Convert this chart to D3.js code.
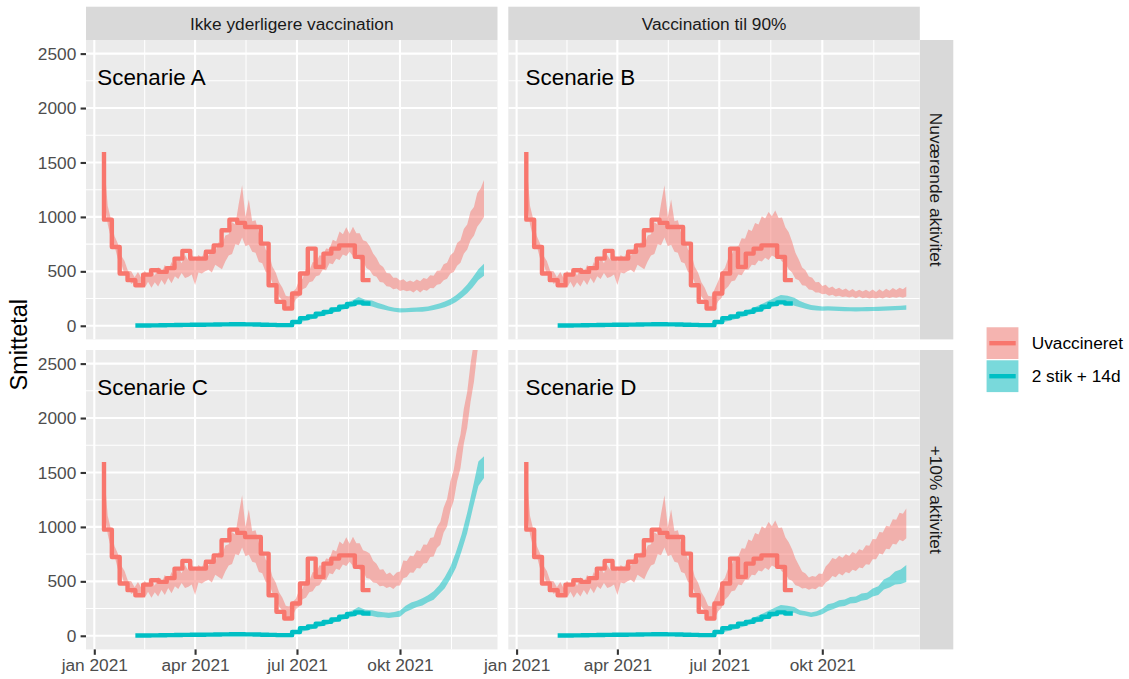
<!DOCTYPE html>
<html><head><meta charset="utf-8">
<script src="https://cdn.jsdelivr.net/npm/d3@7"></script>
<style>
body{margin:0;background:#fff;}
text{font-family:"Liberation Sans",Arial,Helvetica,sans-serif;}
</style>
</head><body>
<svg id="chart" width="1129" height="679"></svg>
<script>
// ---------------- DATA ----------------
const colFacets = ["Ikke yderligere vaccination", "Vaccination til 90%"];
const rowFacets = ["Nuværende aktivitet", "+10% aktivitet"];
const scenarioLabels = ["Scenarie A", "Scenarie B", "Scenarie C", "Scenarie D"];
const seriesNames = ["Uvaccineret", "2 stik + 14d"];
const yTicks = [0, 500, 1000, 1500, 2000, 2500];
const xBreaks = ["2021-01-01", "2021-04-01", "2021-07-01", "2021-10-01", "2022-01-01"];
const xTickLabels = ["jan 2021", "apr 2021", "jul 2021", "okt 2021", "jan 2022"];

// observed weekly step series (same in all panels)
const obsStart = "2021-01-09T16:00:00Z";
const obsRedSpike = 1596;
const obsRed = [975,724,480,419,373,470,510,495,530,617, 688,617,617,680,739,877,975,945,908,908,
  755,373,220,159,297,480,709,541,663,709, 739,739,633,419];
const obsCyanStartWeek = 4;
const obsCyan = [2,3,4,5,6,7,8,9,10,11, 12,13,14,14,13,12,10,8,6,6, 35,70,85,110,128,150,175,200,215,205];

// model ribbons: Uvaccineret (red)
const redCommonStart = "2021-01-10", redCommonStep = 3;
const redCommonLo = [1150,930,800,735,615,575,470,450,385,405,360,400,345,405,350,400,360,420,375,440,390,455,430,485,440,450,470,375,490,480,500,515,490,560,540,520,590,645,660,750,740,810,730,745,680,670,585,575,495,480,395,350,270,230,180,170];
const redCommonHi = [1480,1100,975,825,755,645,595,505,500,445,495,440,505,460,525,460,540,480,560,505,585,530,625,575,650,600,660,590,650,625,700,640,725,680,770,740,830,840,950,930,1120,1290,1000,1160,960,970,850,810,700,670,545,490,400,350,275,270];

const redColStart = "2021-06-27", redColStep = 3;
const redLeftLo  = [180,245,270,335,350,400,410,455,465,515,510,575,565,615,605,655,640,680,640,670,605,595,530];
const redLeftHi  = [310,340,420,430,525,505,585,580,645,645,710,705,790,775,865,840,905,845,910,850,850,785,775];
const redRightLo = [160,225,255,330,360,410,415,470,465,515,515,560,555,600,590,625,605,645,630,635,590,575,520];
const redRightHi = [340,410,495,530,620,650,720,730,805,800,885,870,945,930,1005,985,1045,1005,1060,990,995,905,860];

const redTailStart = "2021-09-04", redTailStep = 3;
const redTailALo = [510,462,450,402,398,364,358,335,342,320,328,318,325,306,330,305,330,322,346,344,378,384,418,432,480,495,552,580,662,700,785,828,910,950,1000];
const redTailAHi = [730,665,622,562,540,485,480,442,442,415,428,402,415,402,426,410,438,430,464,460,505,508,566,578,648,675,760,785,890,930,1050,1090,1220,1260,1340];
const redTailBLo = [490,432,418,372,368,334,328,306,306,290,294,276,286,268,276,264,270,260,268,254,268,252,261,250,258,250,260,251,264,256,264,257,267,258,270];
const redTailBHi = [775,670,610,535,510,452,442,400,402,366,378,346,362,336,350,328,342,320,338,316,332,314,330,312,334,310,336,314,340,322,346,328,350,336,358];
const redTailCLo = [525,490,485,456,460,438,450,430,460,462,528,540,582,578,622,618,664,668,724,728,806,836,948,1004,1150,1240,1420,1540,1765,1910,2150,2330,2600,2800,3080];
const redTailCHi = [755,690,662,606,612,566,582,550,582,590,692,686,736,730,786,776,838,836,898,906,1000,1048,1178,1256,1420,1525,1725,1850,2085,2240,2500,2700,2980,3200,3500];
const redTailDLo = [505,465,456,434,440,424,434,428,452,448,490,510,550,538,572,554,586,574,606,594,628,620,658,652,702,702,756,746,800,796,846,838,882,868,895];
const redTailDHi = [795,710,650,590,572,535,550,542,572,568,636,668,714,702,736,716,750,734,770,754,795,784,832,828,888,886,954,948,1010,1004,1070,1066,1130,1122,1170];

// model ribbons: 2 stik + 14d (cyan)
const cyanCommonStart = "2021-02-08", cyanCommonStep = 6;
const cyanCommonLo = [0,1,2,3,4,5,5,6,7,8,8,9,10,10,11,11,10,10,9,8,7,6,6,8];
const cyanCommonHi = [8,10,12,14,15,16,18,19,20,21,22,23,24,25,26,26,25,24,23,22,21,20,22,28];
const cyanColStart = "2021-07-02", cyanColStep = 6;
const cyanLeftLo  = [30,45,60,80,95,115,135,155,175,195,190];
const cyanLeftHi  = [55,75,95,115,135,158,180,205,230,265,240];
const cyanRightLo = [28,42,58,76,95,115,135,158,180,205,210];
const cyanRightHi = [55,75,98,120,142,168,195,225,255,282,275];
const cyanTailStart = "2021-09-06", cyanTailStep = 5;
const cyanTailALo = [178,162,150,138,128,122,124,126,128,130,136,145,156,170,190,218,255,300,355,420,460];
const cyanTailAHi = [232,212,195,178,166,160,162,165,168,172,178,190,204,222,246,280,325,380,445,520,570];
const cyanTailBLo = [185,170,156,146,140,138,140,138,136,134,133,132,133,134,135,137,139,141,143,145,148];
const cyanTailBHi = [258,228,206,192,183,178,180,177,174,172,170,170,170,172,173,176,178,180,182,184,188];
const cyanTailCLo = [182,170,170,163,170,176,218,242,265,279,308,332,384,436,525,625,776,944,1166,1375,1450];
const cyanTailCHi = [235,222,216,212,218,232,275,305,322,345,372,410,465,540,635,770,930,1130,1360,1600,1650];
const cyanTailDLo = [212,190,183,172,181,197,228,245,266,274,296,301,322,331,360,375,425,443,471,476,495];
const cyanTailDHi = [265,235,225,213,225,249,289,301,326,334,357,361,388,396,434,454,516,542,591,609,650];

// ---------------- LAYOUT ----------------
const DAY = 864e5;
const C = {red:"#F8766D", cyan:"#00BFC4", panel:"#EBEBEB", strip:"#D9D9D9"};
const panelW = 411.5, panelH = 299.4;
const colX = [86, 508.3], rowY = [40, 350];
const xDomain = [new Date("2020-12-24T14:10:00Z"), new Date("2021-12-27T01:40:00Z")];
const yDomain = [-125, 2625];
const labelPos = [{d:"2021-01-03T16:00:00Z"}, {d:"2021-01-09T00:00:00Z"}];
const labelValue = 2290;

const svg = d3.select("#chart");
svg.append("rect").attr("width",1129).attr("height",679).attr("fill","#fff");

function chunk(start, step, lo, hi){
  const t0 = +new Date(start.length>10 ? start : start+"T00:00:00Z");
  return lo.map((v,i)=>({date:new Date(t0 + i*step*DAY), lo:v, hi:hi[i]}));
}
const redCommon = chunk(redCommonStart, redCommonStep, redCommonLo, redCommonHi);
const cyanCommon = chunk(cyanCommonStart, cyanCommonStep, cyanCommonLo, cyanCommonHi);
const redCol = [chunk(redColStart, redColStep, redLeftLo, redLeftHi), chunk(redColStart, redColStep, redRightLo, redRightHi)];
const cyanCol = [chunk(cyanColStart, cyanColStep, cyanLeftLo, cyanLeftHi), chunk(cyanColStart, cyanColStep, cyanRightLo, cyanRightHi)];
const redTails = [[redTailALo,redTailAHi],[redTailBLo,redTailBHi],[redTailCLo,redTailCHi],[redTailDLo,redTailDHi]]
  .map(a=>chunk(redTailStart, redTailStep, a[0], a[1]));
const cyanTails = [[cyanTailALo,cyanTailAHi],[cyanTailBLo,cyanTailBHi],[cyanTailCLo,cyanTailCHi],[cyanTailDLo,cyanTailDHi]]
  .map(a=>chunk(cyanTailStart, cyanTailStep, a[0], a[1]));

const t0obs = +new Date(obsStart);
const redObs = [{date:new Date(t0obs), v:obsRedSpike}]
  .concat(obsRed.map((v,i)=>({date:new Date(t0obs+i*7*DAY), v})))
  .concat([{date:new Date(t0obs+obsRed.length*7*DAY), v:obsRed[obsRed.length-1]}]);
const cyanObs = obsCyan.map((v,i)=>({date:new Date(t0obs+(i+obsCyanStartWeek)*7*DAY), v}))
  .concat([{date:new Date(t0obs+(obsCyan.length+obsCyanStartWeek)*7*DAY), v:obsCyan[obsCyan.length-1]}]);

const majorDates = xBreaks.map(s=>new Date(s+"T00:00:00Z"));
const minorDates = d3.pairs(majorDates).map(p=>new Date((+p[0] + +p[1])/2));
const yMinor = d3.pairs(yTicks).map(p=>(p[0]+p[1])/2);

const defs = svg.append("defs");

for (let r=0; r<2; r++){
  for (let c=0; c<2; c++){
    const idx = r*2+c;
    const x0 = colX[c], y0 = rowY[r];
    const x = d3.scaleUtc().domain(xDomain).range([x0, x0+panelW]);
    const y = d3.scaleLinear().domain(yDomain).range([y0+panelH, y0]);
    const g = svg.append("g");
    g.append("rect").attr("x",x0).attr("y",y0).attr("width",panelW).attr("height",panelH).attr("fill",C.panel);
    const cid = "clip"+idx;
    defs.append("clipPath").attr("id",cid).append("rect").attr("x",x0).attr("y",y0).attr("width",panelW).attr("height",panelH);
    const pg = g.append("g").attr("clip-path",`url(#${cid})`);
    // grid
    yMinor.forEach(v=>pg.append("line").attr("x1",x0).attr("x2",x0+panelW).attr("y1",y(v)).attr("y2",y(v)).attr("stroke","#fff").attr("stroke-width",1.05));
    minorDates.forEach(d=>pg.append("line").attr("x1",x(d)).attr("x2",x(d)).attr("y1",y0).attr("y2",y0+panelH).attr("stroke","#fff").attr("stroke-width",1.05));
    yTicks.forEach(v=>pg.append("line").attr("x1",x0).attr("x2",x0+panelW).attr("y1",y(v)).attr("y2",y(v)).attr("stroke","#fff").attr("stroke-width",2.1));
    majorDates.forEach(d=>pg.append("line").attr("x1",x(d)).attr("x2",x(d)).attr("y1",y0).attr("y2",y0+panelH).attr("stroke","#fff").attr("stroke-width",2.1));

    const area = d3.area().x(d=>x(d.date)).y0(d=>y(d.lo)).y1(d=>y(d.hi));
    const redBand = redCommon.concat(redCol[c], redTails[idx]);
    const cyanBand = cyanCommon.concat(cyanCol[c], cyanTails[idx]);
    pg.append("path").attr("d",area(redBand)).attr("fill",C.red).attr("fill-opacity",0.5);
    pg.append("path").attr("d",area(cyanBand)).attr("fill",C.cyan).attr("fill-opacity",0.5);
    const line = d3.line().x(d=>x(d.date)).y(d=>y(d.v)).curve(d3.curveStepAfter);
    pg.append("path").attr("d",line(redObs)).attr("fill","none").attr("stroke",C.red).attr("stroke-width",4.4).attr("stroke-linejoin","round");
    pg.append("path").attr("d",line(cyanObs)).attr("fill","none").attr("stroke",C.cyan).attr("stroke-width",4.4).attr("stroke-linejoin","round");

    // scenario label
    g.append("text").attr("x",x(new Date(labelPos[c].d))).attr("y",y(labelValue)).attr("dy","0.36em")
      .attr("font-size","22.4px").attr("fill","#000").text(scenarioLabels[idx]);

    // strips
    if (r===0){
      g.append("rect").attr("x",x0).attr("y",6.7).attr("width",panelW).attr("height",y0-6.7).attr("fill",C.strip);
      g.append("text").attr("x",x0+panelW/2).attr("y",(6.7+y0)/2).attr("dy","0.36em").attr("text-anchor","middle")
        .attr("font-size","17.3px").attr("fill","#1A1A1A").text(colFacets[c]);
    }
    if (c===1){
      const sx = x0+panelW+0.2;
      g.append("rect").attr("x",sx).attr("y",y0).attr("width",33.3).attr("height",panelH).attr("fill",C.strip);
      g.append("text").attr("transform",`translate(${sx+16.6},${y0+panelH/2}) rotate(90)`).attr("dy","0.36em")
        .attr("text-anchor","middle").attr("font-size","17.3px").attr("fill","#1A1A1A").text(rowFacets[r]);
    }
    // axes
    if (c===0){
      const ax = g.append("g").attr("transform",`translate(${x0},0)`)
        .call(d3.axisLeft(y).tickValues(yTicks).tickFormat(d3.format("d")).tickSize(5.4).tickPadding(4.3));
      ax.select(".domain").remove();
      ax.selectAll("line").attr("stroke","#333").attr("stroke-width",2.1);
      ax.selectAll("text").attr("font-size","17.3px").attr("fill","#4D4D4D").attr("font-family",null);
    }
    if (r===1){
      const ax = g.append("g").attr("transform",`translate(0,${y0+panelH})`)
        .call(d3.axisBottom(x).tickValues(majorDates.filter(d=>d<=xDomain[1])).tickFormat((d,i)=>xTickLabels[i]).tickSize(5.4).tickPadding(4.3));
      ax.select(".domain").remove();
      ax.selectAll("line").attr("stroke","#333").attr("stroke-width",2.1);
      ax.selectAll("text").attr("font-size","17.3px").attr("fill","#4D4D4D").attr("font-family",null);
    }
  }
}

// y-axis title
svg.append("text").attr("transform",`translate(27,${(rowY[0]+rowY[1]+panelH)/2}) rotate(-90)`)
  .attr("text-anchor","middle").attr("font-size","23.5px").attr("fill","#000").text("Smittetal");

// legend
const lg = svg.append("g");
const keyX = 986, keyY = 326.7, keyS = 33;
seriesNames.forEach((nm,i)=>{
  const col = i===0 ? C.red : C.cyan;
  const ky = keyY + i*keyS;
  lg.append("rect").attr("x",keyX).attr("y",ky).attr("width",keyS).attr("height",keyS).attr("fill","#F2F2F2").attr("stroke","#fff").attr("stroke-width",1.2);
  lg.append("rect").attr("x",keyX+0.6).attr("y",ky+0.6).attr("width",keyS-1.2).attr("height",keyS-1.2).attr("fill",col).attr("fill-opacity",0.5);
  lg.append("line").attr("x1",keyX+3.3).attr("x2",keyX+keyS-3.3).attr("y1",ky+keyS/2).attr("y2",ky+keyS/2)
    .attr("stroke",col).attr("stroke-width",4.4);
  lg.append("text").attr("x",1031.7).attr("y",ky+keyS/2).attr("dy","0.36em").attr("font-size","17.3px").attr("fill","#000").text(nm);
});
</script>
</body></html>
